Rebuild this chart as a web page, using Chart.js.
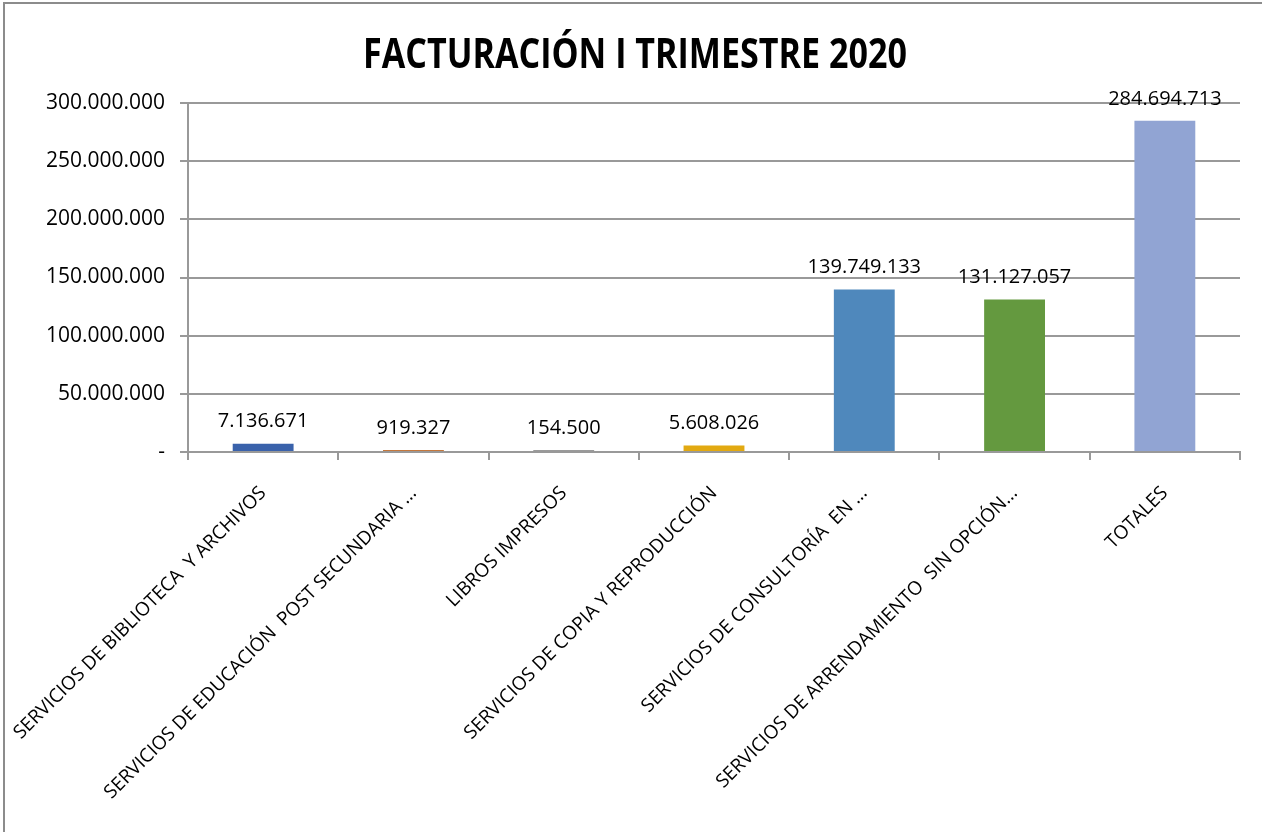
<!DOCTYPE html>
<html>
<head>
<meta charset="utf-8">
<script src="https://cdn.jsdelivr.net/npm/chart.js@4/dist/chart.umd.min.js"></script>
<style>
  html, body { margin: 0; padding: 0; background: #fff; }
  #wrap { width: 1262px; height: 832px; position: relative; }
</style>
</head>
<body>
<div id="wrap"><canvas id="chart-area"></canvas></div>
<script>
var categories = [
  'SERVICIOS DE BIBLIOTECA  Y ARCHIVOS',
  'SERVICIOS DE EDUCACIÓN  POST SECUNDARIA ...',
  'LIBROS IMPRESOS',
  'SERVICIOS DE COPIA Y REPRODUCCIÓN',
  'SERVICIOS DE CONSULTORÍA  EN ...',
  'SERVICIOS DE ARRENDAMIENTO  SIN OPCIÓN...',
  'TOTALES'
];
var values = [7136671, 919327, 154500, 5608026, 139749133, 131127057, 284694713];
var barColors = ['#3a62ab', '#c4773c', '#9a9a9a', '#e2a911', '#4f88bc', '#64993f', '#91a4d3'];
var yTicks = [0, 50000000, 100000000, 150000000, 200000000, 250000000, 300000000];
var chartTitle = 'FACTURACIÓN I TRIMESTRE 2020';

function fmt(n) {
  if (n === 0) return '-';
  return String(n).replace(/\B(?=(\d{3})+(?!\d))/g, '.');
}

// value labels over each bar
var valueLabels = {
  id: 'valueLabels',
  afterDatasetsDraw: function(chart) {
    var ctx = chart.ctx;
    var meta = chart.getDatasetMeta(0);
    ctx.save();
    ctx.font = '20px "Open Sans", sans-serif';
    ctx.fillStyle = '#000';
    ctx.textAlign = 'center';
    ctx.textBaseline = 'middle';
    meta.data.forEach(function(bar, i) {
      ctx.fillText(fmt(values[i]), bar.x, bar.y - 22);
    });
    ctx.restore();
  }
};

// outer frame + condensed bold title
var frame = {
  id: 'frame',
  beforeDraw: function(chart) {
    var ctx = chart.ctx;
    ctx.save();
    ctx.fillStyle = '#fff';
    ctx.fillRect(0, 0, chart.width, chart.height);
    ctx.strokeStyle = '#8c8c8c';
    ctx.lineWidth = 2;
    ctx.strokeRect(4, 3, chart.width + 10, chart.height + 10);
    ctx.restore();
  },
  afterDraw: function(chart) {
    var ctx = chart.ctx;
    ctx.save();
    ctx.font = 'bold 42px "Open Sans", sans-serif';
    ctx.fillStyle = '#000';
    ctx.textBaseline = 'alphabetic';
    ctx.textAlign = 'center';
    var w = ctx.measureText(chartTitle).width;
    var sx = 544 / w;
    ctx.translate(635, 68);
    ctx.scale(sx, 1);
    ctx.fillText(chartTitle, 0, 0);
    ctx.restore();
  }
};

var config = {
  type: 'bar',
  data: {
    labels: categories,
    datasets: [{
      data: values,
      backgroundColor: barColors,
      borderWidth: 0,
      minBarLength: 2,
      barPercentage: 0.405,
      categoryPercentage: 1
    }]
  },
  options: {
    responsive: true,
    maintainAspectRatio: false,
    animation: false,
    layout: { padding: { left: 0, right: 22, top: 103, bottom: 0 } },
    plugins: {
      legend: { display: false },
      tooltip: { enabled: false },
      title: { display: false }
    },
    scales: {
      x: {
        offset: true,
        afterFit: function(axis) {
          axis.height = 380;
          axis.paddingLeft = 0;
          axis.paddingRight = 0;
        },
        border: { color: '#999', width: 2 },
        grid: { display: true, drawOnChartArea: false, drawTicks: true, tickLength: 8, color: '#999', lineWidth: 2, offset: true },
        ticks: {
          color: '#000',
          minRotation: 45,
          maxRotation: 45,
          autoSkip: false,
          padding: 22,
          font: { family: '"Open Sans", sans-serif', size: 19 }
        }
      },
      y: {
        min: 0,
        max: 300000000,
        afterBuildTicks: function(axis) {
          axis.ticks = yTicks.map(function(v) { return { value: v }; });
        },
        afterFit: function(axis) { axis.width = 188; },
        border: { color: '#999', width: 2 },
        grid: { color: '#999', lineWidth: 2, tickLength: 8 },
        ticks: {
          color: '#000',
          padding: 15,
          font: { family: '"Open Sans", sans-serif', size: 21 },
          callback: function(v) { return fmt(v); }
        }
      }
    }
  },
  plugins: [frame, valueLabels]
};

window.onload = function() {
  var ctx = document.getElementById('chart-area').getContext('2d');
  window.myBar = new Chart(ctx, config);
};
</script>
</body>
</html>
